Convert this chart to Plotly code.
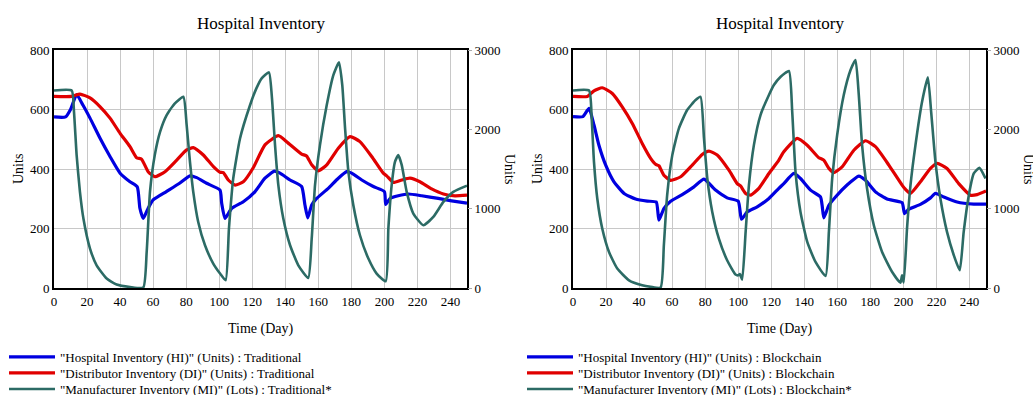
import plotly.graph_objects as go

# ---------------- data ----------------
# Traditional panel
trad_hi_t = [0, 7, 10, 13.7, 17.5, 21.8, 27.8, 33.9, 40, 46, 50.4, 52, 54, 57, 60, 68, 76, 82.3, 86.4, 92.4,
             100.5, 101.5, 103.5, 107.6, 114.6, 121.7, 127.7, 133.4, 136.8, 142.9, 149.9, 151.9, 153.6, 156, 159,
             166, 172.1, 177.2, 180.2, 186.3, 193.3, 200, 200.8, 203.4, 208.4, 214.5, 222.6, 232.6, 240.7, 250]
trad_hi_v = [575, 575, 600, 650, 615, 571, 504, 442, 386, 357, 340, 268, 234, 268, 296, 324, 352, 377, 371, 352,
             329, 285, 234, 268, 290, 324, 369, 393, 386, 363, 341, 279, 236, 279, 301,
             335, 369, 391, 386, 363, 341, 324, 281, 301, 310, 316, 310, 301, 293, 285]

trad_di_t = [0, 10.7, 15.7, 21.8, 27.8, 33.9, 40, 46, 50, 53, 57, 61, 67.2, 74.3, 80.3, 84.3, 90.4, 96.5,
             100.5, 102.5, 105.5, 109.6, 114.6, 120.7, 127.7, 135.8, 141.8, 149.9, 152.9, 156, 160, 165.1,
             172.1, 179.2, 185.2, 192.3, 199.3, 201.4, 205.4, 210.5, 215.5, 221.5, 228.6, 235.7, 242.7, 250]
trad_di_v = [644, 644, 652, 639, 610, 571, 520, 475, 438, 433, 391, 374, 391, 430, 464, 472, 447, 408,
             389, 388, 363, 346, 357, 405, 481, 512, 487, 450, 444, 414, 394, 414,
             470, 509, 492, 442, 386, 377, 355, 363, 369, 357, 333, 316, 310, 312]

trad_mi_t = [0, 10.7, 12.1, 13.7, 15.7, 17.8, 21.8, 25.8, 31.9, 37.9, 46, 54, 56.1, 58.1, 61, 64.2, 68.2, 73.2,
             78.3, 80.3, 82.3, 84.3, 87.3, 91.4, 96.4, 100.5, 103.9, 105.9, 108.5, 112.6, 118.6, 122.5, 125.7,
             130.1, 131.8, 133.8, 135.8, 138.8, 142.9, 147.9, 153.9, 156, 158, 161, 165.1, 169.1, 172.5, 174.5,
             176.2, 178.2, 181.2, 185.2, 190.3, 195.3, 200.8, 202.4, 204.4, 206.4, 208.4, 210.5, 213.5, 217.5,
             223.6, 229.6, 235.7, 241.7, 250]
trad_mi_v = [2490, 2490, 2221, 1675, 1212, 876, 497, 286, 119, 43, 13, 5, 454, 1212, 1675, 1969, 2180, 2327,
             2410, 2053, 1590, 1212, 833, 539, 308, 182, 97, 750, 1381, 1885, 2300, 2516, 2643,
             2718, 2432, 1801, 1296, 876, 539, 286, 126, 623, 1296, 1801, 2306, 2684, 2845, 2558,
             2012, 1464, 1044, 665, 371, 182, 85, 750, 1296, 1590, 1675, 1549, 1212, 939,
             791, 896, 1085, 1212, 1290]

# Blockchain panel
bc_hi_t = [0, 6, 9.7, 12.7, 15.7, 19.8, 24.8, 30.9, 37.9, 45, 50.4, 52, 55, 59.1, 66.1, 73.2, 79.3, 86.3, 93.3,
           100, 102, 105.5, 111.5, 118.6, 124.6, 127.6, 133.7, 137.7, 143.8, 149.8, 150.8, 151.8, 154.9, 158.9,
           165.9, 173, 177.1, 183.1, 190.1, 199.2, 200.7, 203.3, 210.3, 216.4, 219.4, 224.4, 232.5, 242.6, 250]
bc_hi_v = [576, 576, 604, 548, 480, 413, 357, 318, 299, 292, 289, 228, 267, 292, 314, 340, 366, 329, 303,
           292, 231, 256, 273, 301, 335, 351, 385, 368, 329, 306, 278, 236, 278, 306,
           346, 376, 362, 323, 299, 287, 250, 265, 281, 303, 318, 306, 289, 282, 282]

bc_di_t = [0, 8.7, 12.7, 17.7, 23.8, 29.8, 35.9, 41.9, 47, 50, 52, 55, 59.1, 65.2, 72.2, 78.2, 82.3, 87.3, 94.4,
           99.4, 101.4, 104.5, 107.5, 112.5, 118.6, 124.6, 127.6, 135.7, 141.8, 148.8, 151.8, 154.9, 157.9,
           162.9, 170, 177.1, 183.1, 191.2, 199.2, 201.2, 204.3, 210.3, 216.4, 220.4, 226.4, 233.5, 240.6,
           244.6, 250]
bc_di_v = [644, 644, 663, 673, 654, 609, 553, 486, 436, 416, 411, 379, 362, 374, 413, 449, 460, 447, 396,
           351, 343, 318, 312, 335, 385, 430, 458, 503, 480, 438, 430, 402, 388,
           407, 463, 495, 475, 413, 346, 332, 318, 357, 402, 419, 402, 351, 312,
           314, 326]

bc_mi_t = [0, 9.7, 11.3, 12.7, 14.7, 17.7, 21.8, 26.8, 33.9, 41.9, 47, 53, 55, 57, 60.1, 64.1, 69.1, 74.2, 77.2,
           79.3, 81.3, 84.3, 88.3, 93.3, 98.4, 100, 101, 102.4, 104.5, 106.5, 109.5, 113.5, 118.6, 121.6,
           125.7, 130.7, 132.7, 134.7, 137.7, 141.8, 146.8, 152.9, 154.9, 156.9, 159.9, 163.9, 168, 171,
           173, 175, 178, 182.1, 187.1, 193.2, 198.2, 199.2, 200.2, 202.2, 204.3, 207.3, 211.3, 214.8,
           216.8, 219.4, 222.4, 226.4, 230.5, 234.1, 236.5, 239.6, 242.6, 246, 249.7]
bc_mi_v = [2490, 2490, 2138, 1590, 1128, 750, 454, 245, 97, 34, 15, 5, 539, 1170, 1675, 2012, 2243, 2369, 2410,
           1885, 1381, 959, 623, 350, 169, 160, 175, 106, 707, 1296, 1801, 2180, 2432, 2558,
           2663, 2735, 2221, 1464, 959, 581, 328, 151, 707, 1381, 1927, 2432, 2747, 2874,
           2432, 1801, 1254, 791, 454, 202, 68, 160, 70, 750, 1296, 1801, 2347, 2655,
           2221, 1590, 1128, 707, 413, 223, 707, 1170, 1444, 1514, 1381]

x_ticks = [0, 20, 40, 60, 80, 100, 120, 140, 160, 180, 200, 220, 240]
left_ticks = [0, 200, 400, 600, 800]
right_ticks = [0, 1000, 2000, 3000]

titles = ["Hospital Inventory", "Hospital Inventory"]
scenario = ["Traditional", "Blockchain"]

# ---------------- styling ----------------
FONT = "Liberation Serif"
BLUE = "#0000e0"
RED = "#e00000"
TEAL = "#2c6b65"
GRID = "#c8c8c8"
W, H = 1033, 395

def px_x(p):
    return p / W

def px_y(p):
    return 1 - p / H

fig = go.Figure()

panels = [
    dict(hi=(trad_hi_t, trad_hi_v), di=(trad_di_t, trad_di_v), mi=(trad_mi_t, trad_mi_v),
         x="x", yl="y", yr="y2", legends=["legend", "legend2", "legend3"], lx=4),
    dict(hi=(bc_hi_t, bc_hi_v), di=(bc_di_t, bc_di_v), mi=(bc_mi_t, bc_mi_v),
         x="x2", yl="y3", yr="y4", legends=["legend4", "legend5", "legend6"], lx=522),
]
row_y = [357, 373, 389]

legend_font = dict(family=FONT, size=13, color="#000000")
legend_layout = {}

for i, p in enumerate(panels):
    sc = scenario[i]
    lg = p["legends"]
    fig.add_trace(go.Scatter(x=p["hi"][0], y=p["hi"][1], mode="lines",
                             line=dict(color=BLUE, width=3.2, shape="spline", smoothing=0.5),
                             name='"Hospital Inventory (HI)" (Units) : ' + sc,
                             xaxis=p["x"], yaxis=p["yl"], legend=lg[0]))
    fig.add_trace(go.Scatter(x=p["di"][0], y=p["di"][1], mode="lines",
                             line=dict(color=RED, width=3.2, shape="spline", smoothing=0.5),
                             name='"Distributor Inventory (DI)" (Units) : ' + sc,
                             xaxis=p["x"], yaxis=p["yl"], legend=lg[1]))
    fig.add_trace(go.Scatter(x=p["mi"][0], y=p["mi"][1], mode="lines",
                             line=dict(color=TEAL, width=2.6, shape="spline", smoothing=0.5),
                             name='"Manufacturer Inventory (MI)" (Lots) : ' + sc + "*",
                             xaxis=p["x"], yaxis=p["yr"], legend=lg[2]))
    for k in range(3):
        legend_layout[lg[k]] = dict(x=px_x(p["lx"]), y=px_y(row_y[k]), xanchor="left",
                                    yanchor="middle", font=legend_font,
                                    bgcolor="rgba(0,0,0,0)", itemwidth=46)

x_domains = [[px_x(54), px_x(467)], [px_x(573), px_x(986)]]
y_domain = [px_y(288), px_y(50)]

axis_font = dict(family=FONT, size=13, color="#000000")

def xaxis_cfg(dom, anchor):
    return dict(domain=dom, anchor=anchor, range=[0, 250], tickvals=x_ticks,
                showgrid=True, gridcolor=GRID, gridwidth=1, zeroline=False,
                showline=True, linecolor="#000000", linewidth=2, mirror=True,
                ticks="", tickfont=axis_font, fixedrange=True, automargin=False)

def yleft_cfg(anchor):
    return dict(domain=y_domain, anchor=anchor, range=[0, 800], tickvals=left_ticks,
                showgrid=True, gridcolor=GRID, gridwidth=1, zeroline=False,
                showline=True, linecolor="#000000", linewidth=2, mirror=True,
                ticks="", tickfont=axis_font, fixedrange=True, automargin=False)

def yright_cfg(anchor, overlay):
    return dict(domain=y_domain, anchor=anchor, overlaying=overlay, side="right",
                range=[0, 3000], tickvals=right_ticks, showgrid=False, zeroline=False,
                showline=False, ticks="outside", ticklen=4, tickcolor="#aaaaaa",
                tickfont=axis_font, fixedrange=True, automargin=False)

annotations = []
for i in range(2):
    x0, x1 = x_domains[i]
    xc = (x0 + x1) / 2
    annotations.append(dict(text=titles[i], x=xc, y=px_y(24), xref="paper", yref="paper",
                            showarrow=False, font=dict(family=FONT, size=17, color="#000000"),
                            xanchor="center", yanchor="middle"))
    annotations.append(dict(text="Time (Day)", x=xc, y=px_y(329), xref="paper", yref="paper",
                            showarrow=False, font=dict(family=FONT, size=14, color="#000000"),
                            xanchor="center", yanchor="middle"))
    annotations.append(dict(text="Units", x=x0 - px_x(36), y=(y_domain[0] + y_domain[1]) / 2,
                            xref="paper", yref="paper", showarrow=False, textangle=-90,
                            font=dict(family=FONT, size=14, color="#000000"),
                            xanchor="center", yanchor="middle"))
    annotations.append(dict(text="Units", x=x1 + px_x(43), y=(y_domain[0] + y_domain[1]) / 2,
                            xref="paper", yref="paper", showarrow=False, textangle=90,
                            font=dict(family=FONT, size=14, color="#000000"),
                            xanchor="center", yanchor="middle"))

fig.update_layout(
    width=W, height=H,
    margin=dict(l=0, r=0, t=0, b=0, autoexpand=False),
    paper_bgcolor="#ffffff", plot_bgcolor="#ffffff",
    font=dict(family=FONT, size=13, color="#000000"),
    xaxis=xaxis_cfg(x_domains[0], "y"),
    yaxis=yleft_cfg("x"),
    yaxis2=yright_cfg("x", "y"),
    xaxis2=xaxis_cfg(x_domains[1], "y3"),
    yaxis3=yleft_cfg("x2"),
    yaxis4=yright_cfg("x2", "y3"),
    annotations=annotations,
    showlegend=True,
    **legend_layout,
)

fig.write_html("out.html", config={"displayModeBar": False},
               post_script="document.body.style.margin='0px';document.body.style.overflow='hidden';")
